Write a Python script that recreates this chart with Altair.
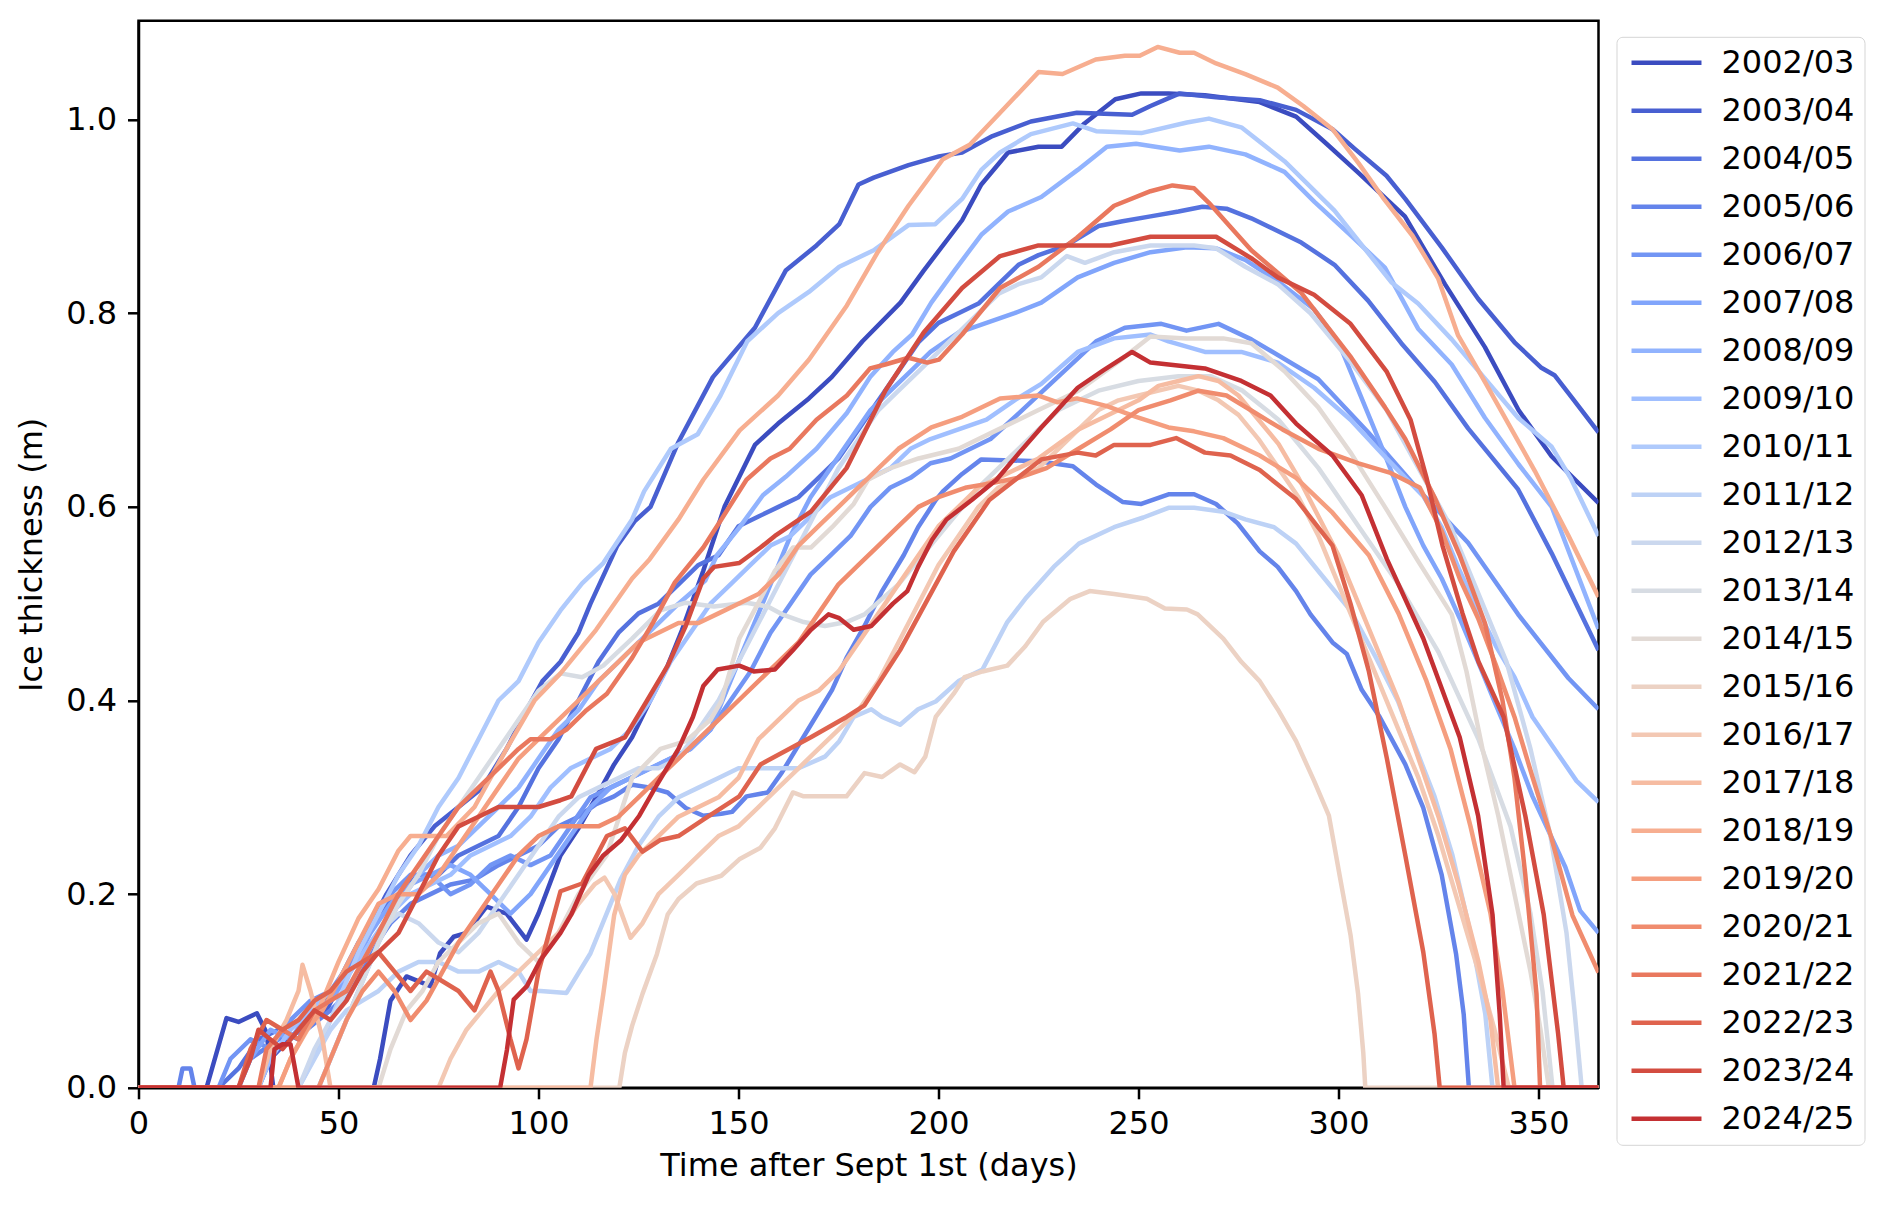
import altair as alt
import numpy as np
import pandas as pd

SEASONS = ["2002/03", "2003/04", "2004/05", "2005/06", "2006/07", "2007/08", "2008/09",
           "2009/10", "2010/11", "2011/12", "2012/13", "2013/14", "2014/15", "2015/16",
           "2016/17", "2017/18", "2018/19", "2019/20", "2020/21", "2021/22", "2022/23",
           "2023/24", "2024/25"]

# (day after Sept 1st, ice thickness in m)
S2002_03 = [(0,0),(17,0),(22,0.072),(25,0.068),(29.6,0.077),(32,0.057),(33.7,0),(58.8,0),(60.4,0.03),(63,0.09),(67,0.115),(73,0.105),(75.4,0.139),(78.8,0.156),(82,0.16),(87,0.187),(92,0.18),(97,0.153),(100,0.18),(105.5,0.24),(110,0.268),(114.4,0.30),(118.9,0.334),(123.4,0.362),(127.8,0.399),(132.3,0.436),(135.9,0.473),(141.2,0.534),(146.5,0.6),(154.1,0.664),(159.9,0.686),(167.6,0.712),(173.3,0.734),(181,0.771),(190.5,0.811),(196.3,0.844),(205.9,0.896),(210.7,0.933),(217.4,0.966),(225,0.972),(230.8,0.972),(236.5,0.996),(244.2,1.021),(250.7,1.027),(257.5,1.027),(266.6,1.025),(280.3,1.018),(289.4,1.003),(297,0.975),(305,0.945),(316.6,0.9),(326.6,0.83),(336.6,0.765),(345,0.7),(353.3,0.652),(365,0.604)]
S2003_04 = [(0,0),(30,0),(33,0.03),(40,0.06),(47,0.08),(52,0.12),(57,0.16),(62,0.2),(68,0.24),(74,0.27),(80,0.29),(86,0.31),(92,0.35),(97,0.39),(101,0.42),(105.5,0.44),(110,0.47),(113,0.50),(119.7,0.56),(124,0.585),(128,0.60),(135,0.667),(143.6,0.734),(154.1,0.785),(161.8,0.844),(169.5,0.87),(175.2,0.892),(180,0.933),(183.8,0.94),(192.5,0.953),(200.1,0.962),(205.9,0.966),(213.5,0.983),(223.1,0.998),(234.6,1.007),(248.4,1.005),(253,1.014),(260.3,1.027),(269.4,1.023),(280.3,1.02),(289.4,1.01),(298.5,0.99),(304,0.97),(312,0.942),(316.7,0.918),(325.8,0.868),(334.9,0.815),(344,0.77),(350.6,0.744),(354,0.736),(358.5,0.712),(365,0.677)]
S2004_05 = [(0,0),(20,0),(25,0.02),(30,0.05),(35,0.06),(40,0.05),(45,0.08),(50,0.11),(55,0.15),(60,0.18),(65,0.2),(70,0.22),(75,0.22),(80,0.24),(85,0.25),(90,0.26),(95,0.29),(100,0.33),(105,0.36),(110,0.40),(115,0.44),(120,0.47),(125,0.49),(130,0.50),(135,0.52),(140,0.54),(145,0.55),(150,0.58),(155,0.59),(160,0.60),(165,0.61),(170,0.63),(175,0.65),(180,0.68),(185,0.71),(190,0.74),(195,0.77),(200,0.79),(205,0.80),(210,0.81),(215,0.83),(220,0.85),(225,0.86),(232,0.87),(240,0.89),(246,0.895),(253,0.90),(260,0.905),(266,0.91),(272,0.908),(278.2,0.898),(290.7,0.873),(299,0.85),(307.4,0.813),(315.7,0.769),(324.1,0.729),(332.4,0.681),(344.9,0.618),(353.3,0.552),(365,0.452)]
S2005_06 = [(0,0),(10,0),(11,0.02),(13,0.02),(14,0),(25,0),(28,0.03),(35,0.05),(42,0.06),(48,0.08),(53,0.1),(58,0.14),(63,0.17),(68,0.19),(73,0.2),(78,0.21),(84,0.215),(90,0.23),(95,0.24),(100,0.25),(105,0.27),(110,0.28),(114.4,0.293),(118.9,0.301),(123.4,0.313),(128,0.31),(132.3,0.305),(136.8,0.289),(141.2,0.281),(145.7,0.283),(148.4,0.285),(152,0.301),(157.3,0.305),(160.9,0.326),(168.1,0.375),(173.4,0.411),(177,0.444),(181.5,0.477),(185.9,0.513),(191.3,0.55),(194.9,0.579),(199.3,0.607),(201.1,0.616),(205.9,0.634),(210.7,0.649),(225,0.647),(233.6,0.642),(239.4,0.623),(246.1,0.605),(250.7,0.603),(257.5,0.613),(263.9,0.613),(269.4,0.603),(274.8,0.583),(280.3,0.554),(284.8,0.538),(289.4,0.513),(293,0.489),(298.5,0.46),(302.1,0.448),(305.8,0.411),(310.3,0.383),(316.7,0.334),(321.2,0.289),(325.8,0.22),(329.4,0.138),(331.3,0.076),(332.6,0),(365,0)]
S2006_07 = [(0,0),(20,0),(23,0.03),(28,0.05),(33,0.04),(38,0.07),(43,0.09),(48,0.1),(53,0.13),(58,0.17),(63,0.2),(68,0.22),(73,0.22),(78,0.2),(83,0.21),(88,0.23),(93,0.24),(98,0.23),(103,0.24),(108,0.27),(113,0.3),(118,0.31),(123,0.32),(128,0.33),(133,0.34),(138,0.35),(143,0.37),(148,0.40),(153,0.43),(158,0.47),(163,0.5),(168,0.53),(173,0.55),(178,0.57),(183,0.6),(188,0.62),(193,0.63),(198,0.645),(203,0.65),(208,0.66),(213,0.67),(220.2,0.697),(229.8,0.734),(239.4,0.771),(246.6,0.785),(255.7,0.789),(262,0.782),(270,0.789),(278.2,0.773),(294.9,0.732),(307.4,0.677),(319.9,0.618),(332.4,0.563),(344.9,0.489),(357.5,0.423),(365,0.391)]
S2007_08 = [(0,0),(25,0),(28,0.03),(33,0.06),(38,0.05),(43,0.08),(48,0.09),(53,0.12),(58,0.16),(63,0.19),(68,0.21),(73,0.22),(78,0.23),(83,0.22),(88,0.2),(93,0.18),(98,0.2),(103,0.23),(108,0.26),(113,0.29),(118,0.31),(123,0.32),(128,0.33),(133,0.34),(138,0.35),(143,0.37),(148,0.42),(153,0.47),(158,0.52),(163,0.57),(168,0.61),(173,0.64),(178,0.67),(183,0.70),(188,0.72),(193,0.74),(198,0.76),(205,0.78),(212,0.79),(219,0.80),(225.7,0.811),(234.8,0.837),(243.9,0.852),(253,0.863),(262.1,0.868),(269.4,0.867),(276.7,0.855),(284.8,0.833),(293.9,0.804),(300,0.77),(305,0.72),(311,0.66),(316.7,0.6),(321.2,0.56),(325.8,0.526),(330.3,0.485),(334.9,0.44),(339.4,0.395),(344,0.35),(348.5,0.301),(353.1,0.26),(356.7,0.228),(360.4,0.183),(365,0.16)]
S2008_09 = [(0,0),(45,0),(50,0.05),(55,0.1),(60,0.15),(65,0.19),(70,0.22),(75,0.24),(80,0.25),(85,0.27),(90,0.29),(95,0.31),(100,0.34),(105,0.37),(110,0.39),(115,0.42),(120,0.44),(125,0.46),(130,0.48),(135,0.5),(141.7,0.524),(144.6,0.55),(150.3,0.579),(156.1,0.612),(161.8,0.631),(169.5,0.66),(177.1,0.697),(182.9,0.734),(188.6,0.76),(193.4,0.778),(198.2,0.811),(204,0.844),(210.7,0.881),(217.4,0.905),(225.7,0.92),(234.8,0.948),(242.1,0.972),(249.4,0.975),(260.3,0.968),(267.6,0.972),(276.7,0.964),(286.5,0.946),(294,0.915),(303.2,0.88),(311.6,0.847),(319.9,0.784),(328.3,0.747),(336.6,0.692),(345,0.644),(353.3,0.6),(365,0.474)]
S2009_10 = [(0,0),(30,0),(33,0.03),(38,0.06),(43,0.08),(48,0.1),(53,0.12),(58,0.15),(63,0.18),(68,0.2),(73,0.21),(78,0.22),(83,0.24),(88,0.25),(93,0.26),(98,0.28),(103,0.31),(108,0.33),(113,0.34),(118,0.35),(123,0.37),(128,0.4),(133,0.44),(138,0.47),(143,0.5),(148,0.52),(153,0.54),(158,0.56),(163,0.57),(168,0.59),(173,0.61),(178,0.62),(183,0.63),(188,0.64),(193,0.66),(198,0.67),(205,0.68),(212,0.69),(219,0.71),(225.7,0.727),(234.8,0.76),(243.9,0.774),(253,0.778),(257.5,0.771),(266.6,0.76),(275.7,0.76),(284.8,0.749),(293.9,0.723),(303,0.69),(312,0.65),(321.2,0.611),(325.8,0.579),(330.3,0.534),(334.9,0.493),(339.4,0.456),(344,0.424),(348.5,0.383),(354,0.35),(359.5,0.317),(365,0.295)]
S2010_11 = [(0,0),(40,0),(45,0.04),(50,0.09),(55,0.14),(60,0.18),(65,0.22),(70,0.25),(75,0.29),(80,0.32),(85,0.36),(90,0.40),(95,0.42),(100,0.46),(105.5,0.493),(110.9,0.521),(116.2,0.542),(123.4,0.587),(126.4,0.616),(133.1,0.66),(139.8,0.675),(145.5,0.715),(152.2,0.771),(159.9,0.8),(167.6,0.822),(175.2,0.848),(183.8,0.865),(192.5,0.891),(199.2,0.892),(205.9,0.918),(210.7,0.948),(215.4,0.966),(223.1,0.985),(233.6,0.996),(239.4,0.988),(250.7,0.986),(262.1,0.997),(267.6,1.001),(275.7,0.992),(286.5,0.957),(299,0.906),(313.2,0.832),(319.9,0.81),(328.3,0.773),(344.9,0.692),(353.3,0.662),(358,0.63),(365,0.57)]
S2011_12 = [(0,0),(40,0),(44,0.03),(48,0.06),(52,0.08),(56,0.09),(60,0.1),(65,0.12),(70,0.13),(75,0.13),(80,0.12),(85,0.12),(90,0.13),(95,0.12),(98,0.1),(100.5,0.1),(107,0.098),(113,0.139),(120.5,0.215),(125,0.25),(130,0.28),(135,0.3),(140,0.31),(145,0.32),(150,0.33),(160,0.33),(165,0.33),(171.6,0.342),(175.2,0.358),(178.8,0.383),(183.2,0.391),(185.9,0.383),(190.4,0.375),(194.9,0.391),(199.3,0.399),(205,0.42),(211,0.432),(217.2,0.481),(221.7,0.505),(228.8,0.538),(235.1,0.562),(243.9,0.579),(251.2,0.589),(257.5,0.599),(263.9,0.599),(271.2,0.595),(276.7,0.587),(283.9,0.579),(289.4,0.562),(294.9,0.534),(303,0.493),(309.4,0.444),(314.9,0.399),(319.4,0.35),(324,0.301),(328.5,0.24),(333.1,0.158),(336.7,0.076),(338.5,0),(365,0)]
S2012_13 = [(0,0),(40,0),(44,0.04),(48,0.07),(52,0.1),(56,0.13),(60,0.16),(65,0.18),(70,0.17),(75,0.15),(80,0.14),(85,0.16),(90,0.19),(95,0.22),(100,0.25),(105,0.28),(110,0.3),(115,0.31),(120,0.32),(125,0.33),(130,0.33),(135,0.34),(140,0.37),(145,0.40),(150,0.44),(155,0.48),(160,0.52),(165,0.56),(170,0.6),(175,0.64),(180,0.67),(185,0.7),(190,0.72),(195,0.74),(200,0.76),(205,0.78),(210,0.8),(215,0.82),(220,0.83),(225.7,0.837),(232.1,0.859),(236.6,0.852),(243.9,0.863),(253,0.87),(263.9,0.87),(269.4,0.867),(276.7,0.848),(284.8,0.83),(293,0.80),(303,0.75),(312,0.70),(320,0.64),(328,0.58),(336,0.5),(342,0.44),(348,0.35),(353,0.26),(357,0.16),(359,0.08),(360.8,0),(365,0)]
S2013_14 = [(0,0),(45,0),(48,0.03),(52,0.07),(56,0.11),(60,0.15),(65,0.19),(70,0.22),(75,0.26),(80,0.29),(85,0.32),(90,0.35),(95,0.38),(100,0.41),(105.5,0.428),(110.9,0.424),(116.2,0.436),(123.4,0.464),(130.5,0.493),(136.8,0.501),(143.9,0.497),(152,0.501),(157.3,0.497),(160.9,0.489),(166.3,0.481),(171.6,0.477),(177,0.481),(181.5,0.489),(190,0.52),(200,0.57),(210,0.62),(220,0.66),(230,0.7),(240,0.72),(250,0.73),(260,0.735),(268,0.735),(276,0.72),(285,0.69),(295,0.64),(305,0.58),(315,0.52),(325,0.45),(335,0.36),(343,0.27),(348,0.18),(351,0.1),(353.5,0),(365,0)]
S2014_15 = [(0,0),(60,0),(63,0.04),(67,0.08),(71,0.1),(75,0.13),(80,0.15),(85,0.17),(90,0.18),(95,0.15),(100,0.13),(105,0.16),(110,0.2),(117,0.24),(123.4,0.32),(130.5,0.35),(136.8,0.358),(143,0.38),(145.7,0.399),(150.2,0.464),(155.5,0.505),(159.1,0.534),(163.6,0.558),(168.1,0.558),(173.4,0.579),(178.8,0.603),(182.4,0.628),(188,0.64),(195,0.65),(205,0.66),(215,0.68),(225,0.70),(235,0.72),(245,0.75),(253,0.776),(262,0.774),(271.2,0.774),(278.2,0.769),(286.5,0.74),(294.9,0.703),(303.2,0.655),(311.6,0.6),(319.9,0.544),(328.3,0.489),(332,0.43),(336,0.35),(340,0.28),(344,0.2),(348,0.12),(350.5,0.06),(352.6,0),(365,0)]
S2015_16 = [(0,0),(120.2,0),(121.6,0.036),(123.4,0.064),(126,0.097),(129.6,0.138),(132.3,0.179),(135,0.195),(139.5,0.211),(145.7,0.219),(150.2,0.236),(155.5,0.248),(159.1,0.268),(163.6,0.305),(166.3,0.301),(171.6,0.301),(177,0.301),(181.5,0.325),(185.9,0.321),(190.4,0.334),(194,0.326),(196.7,0.342),(199.3,0.383),(203.8,0.407),(206.5,0.424),(211,0.43),(217.2,0.436),(221.7,0.456),(226.1,0.481),(233,0.505),(237.8,0.513),(243.9,0.51),(252.1,0.505),(256.6,0.495),(262.1,0.494),(264.8,0.489),(271.2,0.464),(275.7,0.44),(280.3,0.42),(284.8,0.391),(289.4,0.358),(293.9,0.317),(297.6,0.281),(300.3,0.219),(303,0.158),(304.9,0.097),(306.2,0.036),(306.7,0),(365,0)]
S2016_17 = [(0,0),(75,0),(78,0.03),(82,0.06),(86,0.08),(90,0.1),(95,0.12),(100,0.14),(105,0.16),(110,0.19),(114,0.21),(116.5,0.217),(119,0.2),(123,0.155),(126,0.17),(130,0.2),(135,0.22),(140,0.24),(145,0.26),(150,0.27),(155,0.29),(160,0.31),(165,0.33),(170,0.35),(175,0.37),(180,0.39),(185,0.42),(190,0.46),(195,0.5),(200,0.54),(205,0.57),(210,0.6),(215,0.62),(220,0.63),(225,0.64),(230,0.66),(235,0.68),(240,0.70),(245,0.71),(250,0.715),(255,0.72),(260,0.725),(265,0.72),(270,0.71),(275,0.695),(280,0.67),(285,0.64),(290,0.61),(295,0.57),(300,0.52),(305,0.47),(310,0.42),(315,0.37),(320,0.32),(325,0.26),(330,0.19),(335,0.12),(339,0.06),(342.6,0),(365,0)]
S2017_18 = [(0,0),(30,0),(33,0.04),(37,0.07),(40,0.1),(41,0.127),(43,0.1),(46,0.05),(48,0),(113,0),(114.5,0.05),(116.2,0.097),(118.9,0.178),(121.6,0.22),(125,0.24),(130,0.26),(135,0.28),(140,0.29),(145,0.30),(150,0.32),(155,0.36),(160,0.38),(165,0.40),(170,0.41),(175,0.43),(180,0.46),(185,0.49),(190,0.52),(195,0.55),(200,0.58),(205,0.60),(210,0.62),(215,0.63),(220,0.64),(225,0.65),(230,0.665),(235,0.68),(240,0.69),(245,0.70),(250,0.71),(255,0.725),(260,0.73),(265,0.735),(270,0.73),(275,0.715),(280,0.69),(285,0.665),(290,0.63),(295,0.59),(300,0.55),(305,0.50),(310,0.45),(315,0.40),(320,0.34),(325,0.28),(330,0.21),(335,0.13),(338,0.07),(339.9,0),(365,0)]
S2018_19 = [(0,0),(35,0),(38,0.03),(45,0.08),(50,0.13),(55,0.175),(60,0.205),(65,0.245),(68,0.26),(77,0.26),(84,0.29),(92,0.35),(99,0.40),(105.5,0.428),(114.4,0.473),(123.4,0.526),(127.8,0.546),(135,0.587),(141.2,0.628),(150.3,0.679),(159.9,0.715),(167.6,0.752),(177.1,0.808),(184.8,0.863),(192.5,0.911),(201.1,0.959),(207.8,0.974),(215.4,1.007),(225,1.049),(231,1.047),(239.3,1.062),(246.6,1.066),(250.3,1.066),(254.8,1.075),(260.3,1.069),(263.9,1.069),(269.4,1.058),(276.7,1.047),(284.8,1.033),(291.2,1.014),(298.5,0.99),(305,0.955),(311,0.92),(318.5,0.88),(324.9,0.836),(329.9,0.777),(336.6,0.729),(349.1,0.637),(357.5,0.57),(365,0.507)]
S2019_20 = [(0,0),(35,0),(38,0.03),(42,0.06),(46,0.08),(50,0.11),(55,0.15),(60,0.19),(65,0.2),(70,0.2),(75,0.22),(80,0.25),(85,0.28),(90,0.31),(95,0.34),(100,0.36),(105,0.38),(110,0.40),(115,0.42),(120,0.44),(125,0.46),(130,0.47),(135,0.48),(140,0.48),(145,0.49),(150,0.5),(155,0.51),(160,0.53),(165,0.56),(170,0.58),(175,0.6),(180,0.62),(185,0.64),(190,0.66),(198.2,0.682),(205.9,0.693),(215.4,0.712),(225,0.715),(229.8,0.708),(234.6,0.712),(242.1,0.704),(249.4,0.693),(257.5,0.682),(263.9,0.678),(271.2,0.671),(280.3,0.653),(289.4,0.63),(298.5,0.594),(307.6,0.55),(315,0.49),(322,0.42),(328,0.35),(333,0.27),(338,0.18),(341,0.1),(344,0),(365,0)]
S2020_21 = [(0,0),(45,0),(48,0.03),(52,0.07),(56,0.1),(60,0.12),(64,0.1),(68,0.07),(72,0.09),(76,0.12),(80,0.15),(85,0.18),(90,0.21),(95,0.24),(100,0.26),(105,0.27),(110,0.27),(115,0.27),(120,0.28),(125,0.3),(130,0.32),(135,0.34),(140,0.36),(145,0.38),(150,0.40),(155,0.42),(160,0.44),(165,0.46),(170,0.49),(175,0.52),(180,0.54),(185,0.56),(190,0.58),(195,0.60),(200,0.61),(207,0.62),(214,0.625),(220,0.63),(227,0.64),(235,0.66),(243,0.68),(250,0.70),(258,0.71),(265,0.72),(272,0.715),(278,0.70),(286,0.68),(295,0.66),(305,0.645),(313,0.635),(320.3,0.62),(325.8,0.575),(330.3,0.526),(334.9,0.485),(339.4,0.436),(344,0.383),(348.5,0.321),(353.1,0.26),(358.5,0.178),(365,0.119)]
S2021_22 = [(0,0),(30,0),(32,0.04),(36,0.06),(40,0.05),(44,0.08),(48,0.09),(52,0.1),(56,0.13),(60,0.16),(65,0.2),(70,0.23),(75,0.26),(80,0.29),(85,0.31),(90,0.33),(95,0.35),(98,0.36),(103,0.36),(107,0.37),(112,0.39),(117.1,0.407),(123.4,0.444),(128.7,0.481),(134.1,0.522),(141.2,0.558),(145.7,0.587),(152,0.628),(158,0.65),(162.8,0.66),(169.5,0.69),(177.1,0.715),(182.9,0.743),(186.7,0.747),(192.5,0.754),(197.2,0.749),(200.1,0.752),(205.9,0.778),(215.4,0.826),(225,0.848),(234.6,0.878),(243.9,0.911),(253,0.926),(258.5,0.932),(263.9,0.929),(267.6,0.914),(273,0.889),(278.2,0.865),(290.7,0.821),(303.2,0.754),(311.6,0.703),(316.7,0.67),(324,0.61),(330.3,0.55),(336.6,0.48),(341,0.4),(344,0.32),(346.7,0.22),(349.5,0.097),(350.4,0),(365,0)]
S2022_23 = [(0,0),(25,0),(28,0.04),(32,0.07),(36,0.06),(40,0.07),(44,0.09),(48,0.1),(52,0.12),(56,0.13),(60,0.14),(64,0.12),(68,0.1),(72,0.12),(76,0.11),(80,0.1),(84,0.08),(88,0.12),(90,0.1),(93,0.05),(95,0.02),(97,0.05),(100,0.12),(105.5,0.203),(110.9,0.211),(117.1,0.26),(121.6,0.268),(126,0.244),(130.5,0.256),(135,0.26),(141.2,0.277),(150.2,0.301),(155.5,0.334),(168.1,0.362),(177,0.383),(181.5,0.395),(190.4,0.452),(203.8,0.554),(212.7,0.607),(225.7,0.649),(234.8,0.656),(239.3,0.653),(243.9,0.664),(253,0.664),(259.4,0.671),(266.6,0.656),(273,0.653),(280.3,0.638),(289.4,0.608),(298.5,0.56),(303,0.5),(307.6,0.43),(312.1,0.34),(316.7,0.24),(321.2,0.14),(324,0.056),(325.3,0),(365,0)]
S2023_24 = [(0,0),(25,0),(28,0.03),(30,0.06),(33,0.05),(36,0.04),(40,0.06),(44,0.08),(48,0.07),(52,0.09),(56,0.12),(60,0.14),(65,0.16),(70,0.2),(75,0.24),(80,0.27),(85,0.28),(90,0.29),(95,0.29),(100,0.29),(105.5,0.297),(108.2,0.301),(114.4,0.35),(121.6,0.362),(127,0.399),(132.3,0.436),(136.8,0.477),(141.2,0.526),(143.9,0.538),(150.2,0.542),(155.5,0.558),(159.1,0.57),(168.1,0.595),(177,0.64),(186.7,0.72),(196.3,0.78),(205.9,0.826),(215.4,0.859),(225,0.87),(229.3,0.87),(243,0.87),(253,0.879),(269.4,0.879),(278.5,0.856),(284.8,0.837),(293.9,0.819),(303,0.789),(312,0.74),(318,0.69),(322,0.63),(326,0.56),(331,0.49),(335,0.44),(341.3,0.383),(346.7,0.281),(351.3,0.179),(354.9,0.056),(356.3,0),(365,0)]
S2024_25 = [(0,0),(33,0),(34,0.04),(36,0.045),(38,0.045),(40,0),(90.4,0),(92.1,0.039),(93.8,0.091),(97.1,0.105),(100.5,0.132),(105.5,0.16),(108.2,0.179),(112.6,0.22),(116.2,0.24),(120.7,0.256),(125.2,0.281),(129.6,0.313),(135,0.35),(138.6,0.383),(141.2,0.415),(144.8,0.432),(150.2,0.436),(153.8,0.43),(159.1,0.432),(163.6,0.452),(168.1,0.473),(172.5,0.489),(175.2,0.485),(178.8,0.473),(183.2,0.477),(188.6,0.5),(192.2,0.513),(194.9,0.538),(198.4,0.566),(202,0.587),(208.3,0.607),(214.5,0.628),(220,0.655),(225.7,0.682),(234.8,0.723),(241.2,0.741),(248.4,0.76),(253,0.749),(257.5,0.747),(266.6,0.743),(275.7,0.73),(283,0.715),(289.4,0.686),(298.5,0.653),(305.8,0.612),(312.1,0.546),(321.2,0.464),(330.3,0.362),(334.9,0.281),(338.5,0.179),(340.3,0.076),(341.3,0),(365,0)]

SERIES = [S2002_03, S2003_04, S2004_05, S2005_06, S2006_07, S2007_08, S2008_09, S2009_10,
          S2010_11, S2011_12, S2012_13, S2013_14, S2014_15, S2015_16, S2016_17, S2017_18,
          S2018_19, S2019_20, S2020_21, S2021_22, S2022_23, S2023_24, S2024_25]

# matplotlib "coolwarm" control points (33 evenly spaced stops)
CW_R = [0.2298057, 0.26623388, 0.30386891, 0.342804478, 0.38301334, 0.424369608, 0.46666708, 0.509635204, 0.552953156, 0.596262162, 0.639176211, 0.681291281, 0.722193294, 0.761464949, 0.798691636, 0.833466556, 0.865395197, 0.897787179, 0.924127593, 0.944468518, 0.958852946, 0.96732803, 0.969954137, 0.966811177, 0.958003065, 0.943660866, 0.923944917, 0.89904617, 0.869186849, 0.834620542, 0.795631745, 0.752534934, 0.705673158]
CW_G = [0.298717966, 0.353094838, 0.406535296, 0.458757618, 0.50941904, 0.558148092, 0.604562568, 0.648280772, 0.688929332, 0.726149107, 0.759599947, 0.788964712, 0.813952739, 0.834302879, 0.849786142, 0.860207984, 0.86541021, 0.848937047, 0.827384882, 0.800927443, 0.769767752, 0.734132809, 0.694266682, 0.650421156, 0.602842431, 0.551750968, 0.49730856, 0.439559467, 0.378313092, 0.312874446, 0.24128379, 0.157246067, 0.01555616]
CW_B = [0.753683153, 0.801466763, 0.84495867, 0.883725899, 0.917387822, 0.945619588, 0.968154911, 0.98478814, 0.995375608, 0.999836203, 0.998151185, 0.990363227, 0.976574709, 0.956945269, 0.931688648, 0.901068838, 0.865395561, 0.820880546, 0.774508472, 0.726736146, 0.678007945, 0.628751763, 0.579375448, 0.530263762, 0.481775914, 0.434243684, 0.387970225, 0.343229596, 0.300267182, 0.259301199, 0.220525627, 0.184115123, 0.150232812]
_stops = np.linspace(0, 1, len(CW_R))


def coolwarm(t):
    rgb = [np.interp(t, _stops, c) for c in (CW_R, CW_G, CW_B)]
    return "#" + "".join(f"{int(round(v * 255)):02x}" for v in rgb)


COLORS = [coolwarm(i / len(SEASONS)) for i in range(len(SEASONS))]

rows = []
for k, (name, pts) in enumerate(zip(SEASONS, SERIES)):
    for d, v in pts:
        rows.append({"season": name, "order": k, "day": d, "thickness": v})
df = pd.DataFrame(rows)

FONT = "DejaVu Sans"

chart = alt.Chart(df).mark_line(strokeWidth=4.5, clip=True, strokeJoin="round").encode(
    x=alt.X("day:Q", scale=alt.Scale(domain=[0, 365], nice=False, zero=False),
            axis=alt.Axis(title="Time after Sept 1st (days)", values=[0, 50, 100, 150, 200, 250, 300, 350],
                          grid=False, tickSize=11, tickWidth=2.5, tickColor="black",
                          domainColor="black", domainWidth=2.5, labelPadding=10,
                          labelFontSize=32, labelFont=FONT, labelColor="black",
                          titleFontSize=32, titleFont=FONT, titleFontWeight="normal",
                          titleColor="black", titlePadding=11, labelFlush=False)),
    y=alt.Y("thickness:Q", scale=alt.Scale(domain=[0, 1.102], nice=False, zero=False),
            axis=alt.Axis(title="Ice thickness (m)", values=[0, 0.2, 0.4, 0.6, 0.8, 1.0], format=".1f",
                          grid=False, tickSize=11, tickWidth=2.5, tickColor="black",
                          domainColor="black", domainWidth=2.5, labelPadding=11,
                          labelFontSize=32, labelFont=FONT, labelColor="black",
                          titleFontSize=32, titleFont=FONT, titleFontWeight="normal",
                          titleColor="black", titlePadding=17, labelFlush=False)),
    color=alt.Color("season:N", sort=SEASONS,
                    scale=alt.Scale(domain=SEASONS, range=COLORS),
                    legend=alt.Legend(title=None, orient="none", legendX=1478, legendY=16,
                                      symbolType="M-4,0H4", symbolSize=306, symbolStrokeWidth=4.5,
                                      symbolOffset=24, labelOffset=39, rowPadding=16, padding=10,
                                      strokeColor="#d5d5d5", cornerRadius=6,
                                      fillColor="white",
                                      labelFontSize=32, labelFont=FONT, labelColor="black",
                                      labelLimit=400)),
    detail="season:N",
    order=alt.Order("day:Q"),
).properties(
    width=1460, height=1067,
    autosize=alt.AutoSizeParams(type="none"),
    padding={"left": 130.5, "top": 12.8, "right": 285, "bottom": 112},
).configure(background="white").configure_view(stroke="black", strokeWidth=2.5)

chart.save("out.html", embed_options={"renderer": "svg", "actions": False})
